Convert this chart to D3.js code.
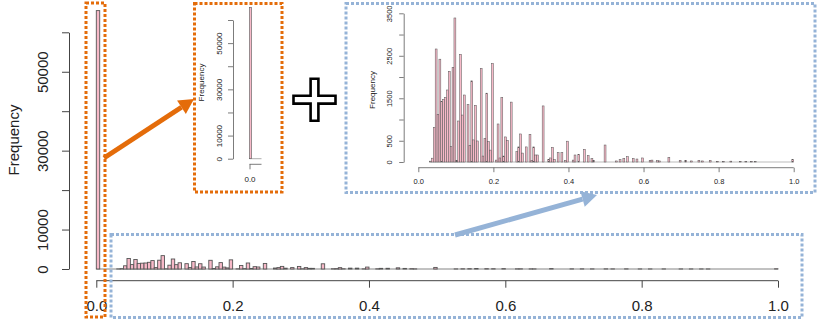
<!DOCTYPE html>
<html>

<head>
  <title>Histogram with zoom insets</title>
  <style type="text/css">
    body { margin: 0; background: #fff; }
    svg { display: block; font-family: "Liberation Sans", Arial, sans-serif; }
  </style>
</head>

<body>
  <div id="chart"></div>
  <script type="text/javascript" src="https://cdn.jsdelivr.net/npm/d3@7"></script>
  <script type="text/javascript">
    // histogram, breaks every 0.005 on [0, 1]; only non-empty bins listed
    var binWidth = 0.005;
    var binLo = [0, 0.030, 0.035, 0.040, 0.045, 0.050, 0.055, 0.060, 0.065, 0.070, 0.075, 0.080, 0.085, 0.090, 0.095,
      0.100, 0.105, 0.110, 0.115, 0.120, 0.130, 0.135, 0.140, 0.145, 0.150, 0.155, 0.165, 0.170, 0.175, 0.180,
      0.185, 0.190, 0.195, 0.205, 0.210, 0.215, 0.220, 0.225, 0.230, 0.235, 0.245, 0.260, 0.265, 0.270, 0.275,
      0.285, 0.295, 0.300, 0.305, 0.310, 0.315, 0.330, 0.345, 0.350, 0.355, 0.360, 0.370, 0.380, 0.390, 0.395,
      0.410, 0.415, 0.425, 0.440, 0.450, 0.460, 0.465, 0.495, 0.525, 0.535, 0.545, 0.555, 0.570, 0.580, 0.595,
      0.615, 0.620, 0.635, 0.640, 0.665, 0.695, 0.710, 0.725, 0.745, 0.755, 0.775, 0.795, 0.810, 0.830, 0.855,
      0.870, 0.885, 0.895, 0.995];
    var binCount = [65500, 20, 90, 816, 2660, 1120, 2420, 1420, 1475, 1520, 1695, 2135, 360, 2230, 3390,
      40, 965, 2535, 1105, 1577, 1350, 385, 1910, 520, 1335, 495, 2205, 140, 555, 1620,
      480, 280, 2320, 45, 895, 95, 1520, 140, 590, 510, 1410, 245, 355, 660, 210,
      355, 650, 40, 355, 165, 165, 1320, 60, 95, 345, 60, 220, 220, 40, 490,
      45, 165, 180, 300, 150, 80, 30, 400, 25, 55, 85, 125, 85, 70, 95,
      40, 45, 30, 25, 110, 40, 40, 25, 40, 25, 40, 15, 15, 20, 15,
      15, 15, 10, 55];

    var mainYTicks = [0, 10000, 20000, 30000, 40000, 50000, 60000];
    var mainYLabels = [0, 10000, 30000, 50000];
    var xTicks = [0, 0.2, 0.4, 0.6, 0.8, 1.0];
    var zoomYTicks = [0, 500, 1000, 1500, 2000, 2500, 3000, 3500];
    var zoomYLabels = [0, 500, 1500, 2500, 3500];

    var bins = binLo.map(function (lo, i) { return { lo: lo, hi: lo + binWidth, n: binCount[i] }; });

    var W = 830, H = 332;
    var orange = "#e46c0a", blue = "#95b3d7";
    var barFill = "#f7b9c8";

    var svg = d3.select("#chart").append("svg")
      .attr("width", W)
      .attr("height", H);

    // draws one R-style histogram panel
    function drawHist(p) {
      var g = svg.append("g");
      var x = d3.scaleLinear().domain(p.xDomain).range(p.xRange);
      var y = d3.scaleLinear().domain(p.yDomain).range(p.yRange);
      var data = bins.filter(function (b) { return b.lo >= p.xDomain[0] - 1e-9 && b.hi <= p.binMax + 1e-9; });

      // zero line under the bars
      g.append("line")
        .attr("x1", x(p.baseFrom)).attr("x2", x(p.binMax))
        .attr("y1", y(0)).attr("y2", y(0))
        .attr("stroke", "#777").attr("stroke-width", p.barStroke);

      g.selectAll("rect.bar")
        .data(data)
        .enter().append("rect")
        .attr("class", "bar")
        .attr("x", function (d) { return x(d.lo); })
        .attr("width", function (d) { return x(d.hi) - x(d.lo); })
        .attr("y", function (d) { return y(Math.min(d.n, p.yDomain[1] * 1.2)); })
        .attr("height", function (d) { return y(0) - y(Math.min(d.n, p.yDomain[1] * 1.2)); })
        .attr("fill", barFill)
        .attr("stroke", "#555")
        .attr("stroke-width", p.barStroke);

      // y axis
      var ya = g.append("g")
        .attr("transform", "translate(" + p.yAxisX + ",0)")
        .call(d3.axisLeft(y).tickValues(p.yTicks).tickSize(p.tick).tickSizeOuter(0)
          .tickFormat(function (d) { return p.yLabels.indexOf(d) >= 0 ? d : ""; }));
      ya.selectAll("text")
        .attr("transform", "rotate(-90)")
        .attr("x", 0).attr("y", -p.yLabelOff).attr("dy", 0)
        .attr("text-anchor", "middle")
        .attr("font-size", p.font + "px")
        .attr("fill", "#222");

      // x axis
      var xa = g.append("g")
        .attr("transform", "translate(0," + p.xAxisY + ")")
        .call(d3.axisBottom(x).tickValues(p.xTicks).tickSize(p.tick).tickSizeOuter(0)
          .tickPadding(p.xLabelPad).tickFormat(d3.format(".1f")));
      xa.select(".domain").attr("d", "M" + x(p.xTicks[0]) + ",0H" + x(p.xAxisEnd));
      xa.selectAll("text").attr("font-size", p.font + "px").attr("fill", "#222");

      g.selectAll(".domain, .tick line").attr("stroke", "#444").attr("stroke-width", p.axisStroke);

      g.append("text")
        .attr("transform", "translate(" + p.ylabX + "," + p.ylabY + ") rotate(-90)")
        .attr("text-anchor", "middle")
        .attr("font-size", p.ylabFont + "px")
        .attr("fill", "#222")
        .text("Frequency");
    }

    // main histogram
    drawHist({
      xDomain: [0, 1], xRange: [96.3, 778], yDomain: [0, 60000], yRange: [269, 32.3],
      binMax: 1, baseFrom: 0, yAxisX: 69, xAxisY: 280.7, xAxisEnd: 1,
      yTicks: mainYTicks, yLabels: mainYLabels, xTicks: xTicks,
      tick: 7, yLabelOff: 21, xLabelPad: 13, font: 15, ylabFont: 15, ylabX: 19, ylabY: 140,
      barStroke: 0.9, axisStroke: 1
    });

    // orange inset: first bins only
    drawHist({
      xDomain: [0, 0.03], xRange: [249.5, 261.5], yDomain: [0, 60000], yRange: [158.7, 20],
      binMax: 0.03, baseFrom: 0, yAxisX: 233, xAxisY: 164.3, xAxisEnd: 0.03,
      yTicks: mainYTicks, yLabels: mainYLabels, xTicks: [0],
      tick: 5, yLabelOff: 11, xLabelPad: 7, font: 8, ylabFont: 8, ylabX: 203.5, ylabY: 82.5,
      barStroke: 0.6, axisStroke: 0.7
    });

    // blue inset: the tail, y cut at 3500
    drawHist({
      xDomain: [0.03, 1], xRange: [418.3 + 0.03 * 375.4, 793.7], yDomain: [0, 3500], yRange: [162, 13.3],
      binMax: 1, baseFrom: 0.03, yAxisX: 403.7, xAxisY: 167.7, xAxisEnd: 1,
      yTicks: zoomYTicks, yLabels: zoomYLabels, xTicks: xTicks,
      tick: 4.5, yLabelOff: 12, xLabelPad: 6, font: 7.5, ylabFont: 8, ylabX: 375, ylabY: 90,
      barStroke: 0.5, axisStroke: 0.7
    });

    // dotted boxes
    var boxes = [
      { x: 86, y: 3, w: 19, h: 314, c: orange },
      { x: 194.5, y: 3.5, w: 87.5, h: 188.5, c: orange },
      { x: 346, y: 3.5, w: 469, h: 189, c: blue },
      { x: 111, y: 234.5, w: 691, h: 83, c: blue }
    ];
    svg.selectAll("rect.box")
      .data(boxes)
      .enter().append("rect")
      .attr("class", "box")
      .attr("x", function (d) { return d.x; })
      .attr("y", function (d) { return d.y; })
      .attr("width", function (d) { return d.w; })
      .attr("height", function (d) { return d.h; })
      .attr("fill", "none")
      .attr("stroke", function (d) { return d.c; })
      .attr("stroke-width", 3)
      .attr("stroke-dasharray", "3 2");

    // arrows
    function arrow(x1, y1, x2, y2, c) {
      var a = Math.atan2(y2 - y1, x2 - x1), hl = 15, hw = 8;
      var bx = x2 - hl * Math.cos(a), by = y2 - hl * Math.sin(a);
      svg.append("line")
        .attr("x1", x1).attr("y1", y1).attr("x2", bx).attr("y2", by)
        .attr("stroke", c).attr("stroke-width", 5);
      var pts = [[x2, y2],
        [bx + hw * Math.sin(a), by - hw * Math.cos(a)],
        [bx - hw * Math.sin(a), by + hw * Math.cos(a)]];
      svg.append("polygon").attr("points", pts.join(" ")).attr("fill", c);
    }
    arrow(104, 158, 194, 99, orange);
    arrow(455, 235, 597, 195, blue);

    // plus sign
    var pc = [314.5, 99.7], arm = 21, half = 3.9;
    var plus = [[-half, -arm], [half, -arm], [half, -half], [arm, -half], [arm, half], [half, half],
      [half, arm], [-half, arm], [-half, half], [-arm, half], [-arm, -half], [-half, -half]];
    svg.append("polygon")
      .attr("points", plus.map(function (p) { return [pc[0] + p[0], pc[1] + p[1]]; }).join(" "))
      .attr("fill", "#fff")
      .attr("stroke", "#000")
      .attr("stroke-width", 2.6)
      .attr("stroke-linejoin", "miter");
  </script>
</body>

</html>
